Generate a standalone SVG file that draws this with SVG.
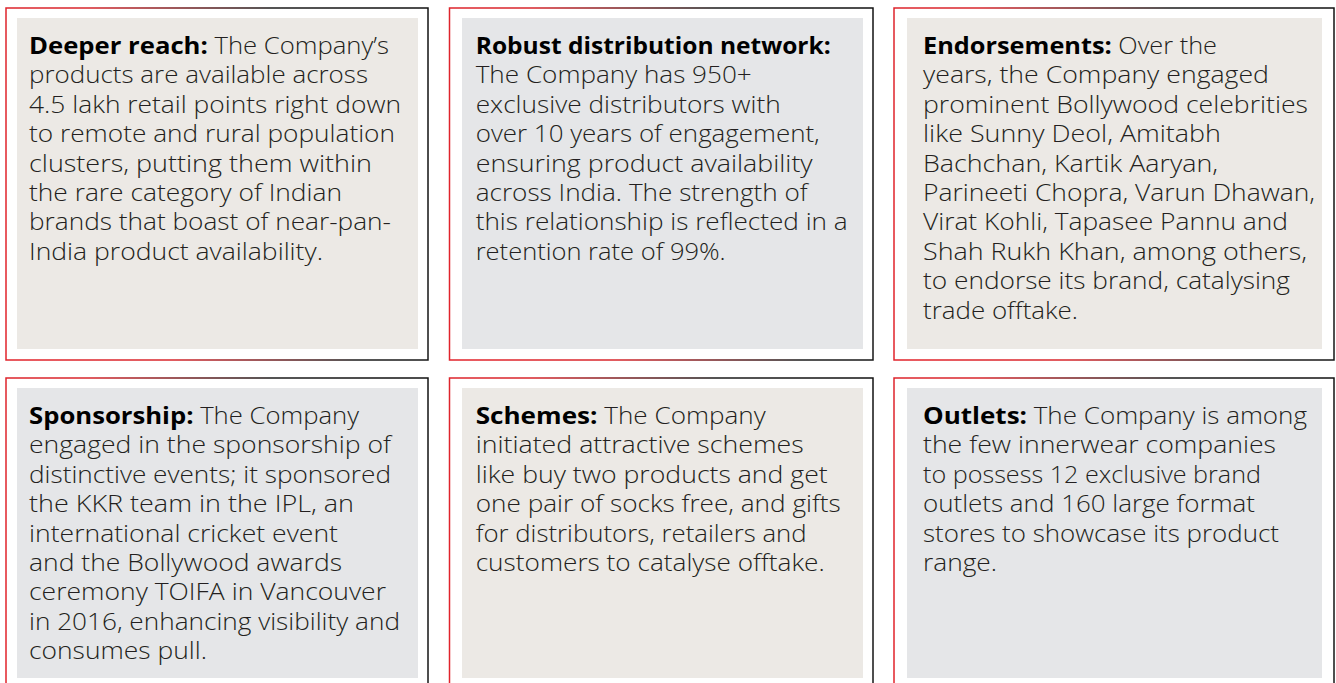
<svg xmlns="http://www.w3.org/2000/svg" width="1336" height="683" viewBox="0 0 1336 683">
<defs>
<linearGradient id="edge" x1="0" y1="0.6" x2="1" y2="0.4">
<stop offset="0" stop-color="#e1232b"/>
<stop offset="0.3" stop-color="#d8262c"/>
<stop offset="0.72" stop-color="#1c1c1c"/>
<stop offset="1" stop-color="#111111"/>
</linearGradient>
<style>
.frame{fill:#ffffff;stroke:url(#edge);stroke-width:1.5}
.beige{fill:#ece9e5}
.grey{fill:#e5e6e8}
.t{font-family:"Open Sans","Liberation Sans",sans-serif;font-size:23px;font-weight:300;fill:#231f20}
.b{font-weight:700;fill:#000000}
</style>
</defs>
<rect width="1336" height="683" fill="#ffffff"/>
<g id="card-deeper-reach">
<rect class="frame" x="6" y="8" width="422" height="352"/>
<rect class="beige" x="17" y="18" width="401" height="331"/>
<text class="t">
<tspan lengthAdjust="spacingAndGlyphs" x="29" y="54" textLength="360"><tspan class="b">Deeper reach:</tspan> The Company’s</tspan>
<tspan lengthAdjust="spacingAndGlyphs" x="29" y="83.4" textLength="339">products are available across</tspan>
<tspan lengthAdjust="spacingAndGlyphs" x="29" y="112.8" textLength="372">4.5 lakh retail points right down</tspan>
<tspan lengthAdjust="spacingAndGlyphs" x="29" y="142.2" textLength="366">to remote and rural population</tspan>
<tspan lengthAdjust="spacingAndGlyphs" x="29" y="171.6" textLength="343">clusters, putting them within</tspan>
<tspan lengthAdjust="spacingAndGlyphs" x="29" y="201" textLength="313">the rare category of Indian</tspan>
<tspan lengthAdjust="spacingAndGlyphs" x="29" y="230.4" textLength="362">brands that boast of near-pan-</tspan>
<tspan lengthAdjust="spacingAndGlyphs" x="29" y="259.8" textLength="294">India product availability.</tspan>
</text>
</g>
<g id="card-distribution">
<rect class="frame" x="449.5" y="8" width="423.5" height="352"/>
<rect class="grey" x="462" y="18" width="401" height="331"/>
<text class="t">
<tspan lengthAdjust="spacingAndGlyphs" x="475.7" y="54" class="b" textLength="355">Robust distribution network:</tspan>
<tspan lengthAdjust="spacingAndGlyphs" x="475.7" y="83.4" textLength="276">The Company has 950+</tspan>
<tspan lengthAdjust="spacingAndGlyphs" x="475.7" y="112.8" textLength="305">exclusive distributors with</tspan>
<tspan lengthAdjust="spacingAndGlyphs" x="475.7" y="142.2" textLength="344">over 10 years of engagement,</tspan>
<tspan lengthAdjust="spacingAndGlyphs" x="475.7" y="171.6" textLength="337">ensuring product availability</tspan>
<tspan lengthAdjust="spacingAndGlyphs" x="475.7" y="201" textLength="332">across India. The strength of</tspan>
<tspan lengthAdjust="spacingAndGlyphs" x="475.7" y="230.4" textLength="372">this relationship is reflected in a</tspan>
<tspan lengthAdjust="spacingAndGlyphs" x="475.7" y="259.8" textLength="250">retention rate of 99%.</tspan>
</text>
</g>
<g id="card-endorsements">
<rect class="frame" x="894" y="8" width="440" height="352"/>
<rect class="beige" x="907" y="18" width="415" height="331"/>
<text class="t">
<tspan lengthAdjust="spacingAndGlyphs" x="923" y="54" textLength="294"><tspan class="b">Endorsements:</tspan> Over the</tspan>
<tspan lengthAdjust="spacingAndGlyphs" x="923" y="83.4" textLength="346">years, the Company engaged</tspan>
<tspan lengthAdjust="spacingAndGlyphs" x="923" y="112.8" textLength="385">prominent Bollywood celebrities</tspan>
<tspan lengthAdjust="spacingAndGlyphs" x="923" y="142.2" textLength="298">like Sunny Deol, Amitabh</tspan>
<tspan lengthAdjust="spacingAndGlyphs" x="923" y="171.6" textLength="295">Bachchan, Kartik Aaryan,</tspan>
<tspan lengthAdjust="spacingAndGlyphs" x="923" y="201" textLength="392">Parineeti Chopra, Varun Dhawan,</tspan>
<tspan lengthAdjust="spacingAndGlyphs" x="923" y="230.4" textLength="365">Virat Kohli, Tapasee Pannu and</tspan>
<tspan lengthAdjust="spacingAndGlyphs" x="923" y="259.8" textLength="384">Shah Rukh Khan, among others,</tspan>
<tspan lengthAdjust="spacingAndGlyphs" x="923" y="289.2" textLength="367">to endorse its brand, catalysing</tspan>
<tspan lengthAdjust="spacingAndGlyphs" x="923" y="318.6" textLength="155">trade offtake.</tspan>
</text>
</g>
<g id="card-sponsorship">
<rect class="frame" x="6" y="378" width="422" height="340"/>
<rect class="grey" x="17" y="388" width="401" height="290"/>
<text class="t">
<tspan lengthAdjust="spacingAndGlyphs" x="29" y="424" textLength="330"><tspan class="b">Sponsorship:</tspan> The Company</tspan>
<tspan lengthAdjust="spacingAndGlyphs" x="29" y="453.4" textLength="362">engaged in the sponsorship of</tspan>
<tspan lengthAdjust="spacingAndGlyphs" x="29" y="482.8" textLength="362">distinctive events; it sponsored</tspan>
<tspan lengthAdjust="spacingAndGlyphs" x="29" y="512.2" textLength="325">the KKR team in the IPL, an</tspan>
<tspan lengthAdjust="spacingAndGlyphs" x="29" y="541.6" textLength="309">international cricket event</tspan>
<tspan lengthAdjust="spacingAndGlyphs" x="29" y="571" textLength="313">and the Bollywood awards</tspan>
<tspan lengthAdjust="spacingAndGlyphs" x="29" y="600.4" textLength="357">ceremony TOIFA in Vancouver</tspan>
<tspan lengthAdjust="spacingAndGlyphs" x="29" y="629.8" textLength="371">in 2016, enhancing visibility and</tspan>
<tspan lengthAdjust="spacingAndGlyphs" x="29" y="659.2" textLength="178">consumes pull.</tspan>
</text>
</g>
<g id="card-schemes">
<rect class="frame" x="449.5" y="378" width="423.5" height="340"/>
<rect class="beige" x="462" y="388" width="401" height="290"/>
<text class="t">
<tspan lengthAdjust="spacingAndGlyphs" x="475.7" y="424" textLength="290"><tspan class="b">Schemes:</tspan> The Company</tspan>
<tspan lengthAdjust="spacingAndGlyphs" x="475.7" y="453.4" textLength="328">initiated attractive schemes</tspan>
<tspan lengthAdjust="spacingAndGlyphs" x="475.7" y="482.8" textLength="352">like buy two products and get</tspan>
<tspan lengthAdjust="spacingAndGlyphs" x="475.7" y="512.2" textLength="365">one pair of socks free, and gifts</tspan>
<tspan lengthAdjust="spacingAndGlyphs" x="475.7" y="541.6" textLength="331">for distributors, retailers and</tspan>
<tspan lengthAdjust="spacingAndGlyphs" x="475.7" y="571" textLength="349">customers to catalyse offtake.</tspan>
</text>
</g>
<g id="card-outlets">
<rect class="frame" x="894" y="378" width="440" height="340"/>
<rect class="grey" x="907" y="388" width="415" height="290"/>
<text class="t">
<tspan lengthAdjust="spacingAndGlyphs" x="923" y="424" textLength="384"><tspan class="b">Outlets:</tspan> The Company is among</tspan>
<tspan lengthAdjust="spacingAndGlyphs" x="923" y="453.4" textLength="353">the few innerwear companies</tspan>
<tspan lengthAdjust="spacingAndGlyphs" x="923" y="482.8" textLength="338">to possess 12 exclusive brand</tspan>
<tspan lengthAdjust="spacingAndGlyphs" x="923" y="512.2" textLength="332">outlets and 160 large format</tspan>
<tspan lengthAdjust="spacingAndGlyphs" x="923" y="541.6" textLength="356">stores to showcase its product</tspan>
<tspan lengthAdjust="spacingAndGlyphs" x="923" y="571" textLength="74">range.</tspan>
</text>
</g>
<g id="connectors"/>
</svg>
